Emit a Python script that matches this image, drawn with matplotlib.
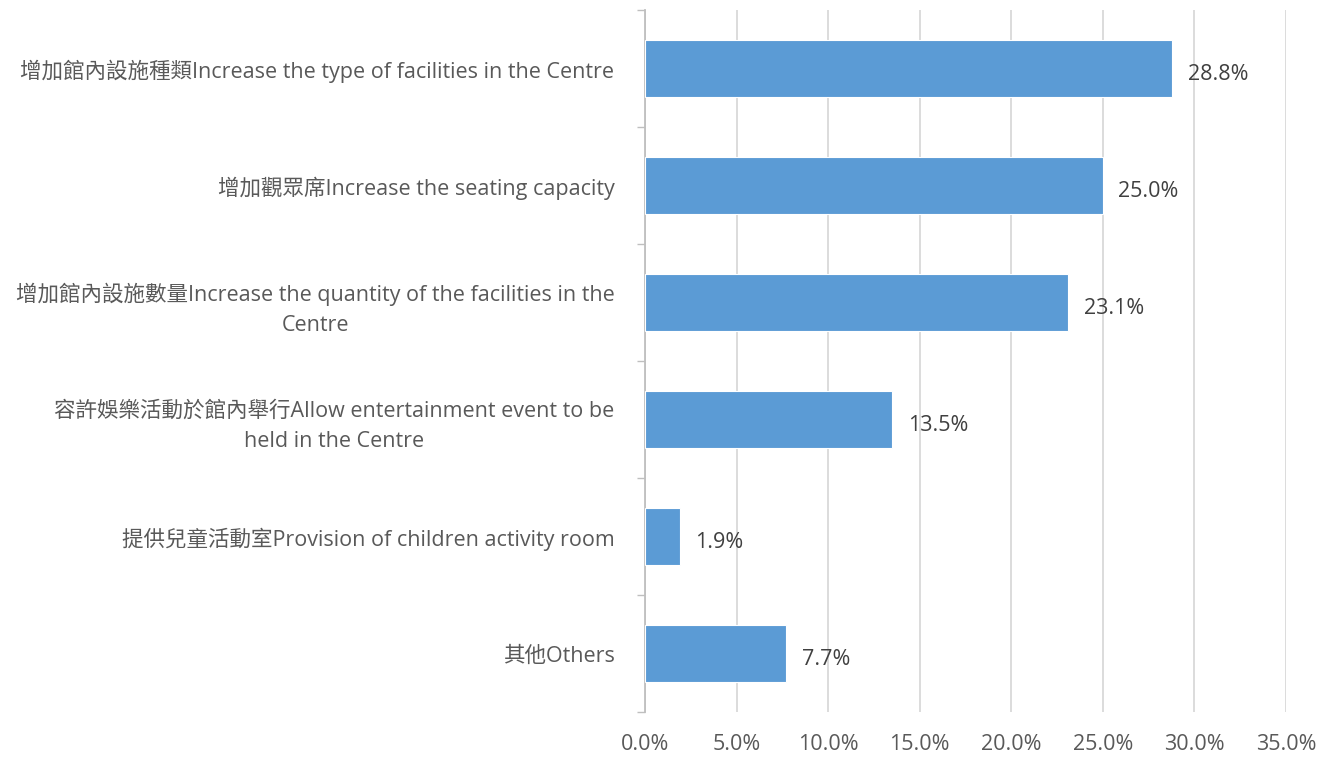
import matplotlib
matplotlib.use("Agg")
import matplotlib.pyplot as plt
import numpy as np

plt.rcParams['font.family'] = ['Open Sans', 'Noto Sans CJK TC', 'DejaVu Sans']

# data
categories = [
    "增加館內設施種類Increase the type of facilities in the Centre",
    "增加觀眾席Increase the seating capacity",
    "增加館內設施數量Increase the quantity of the facilities in the\nCentre",
    "容許娛樂活動於館內舉行Allow entertainment event to be\nheld in the Centre",
    "提供兒童活動室Provision of children activity room",
    "其他Others",
]
values = [28.8, 25.0, 23.1, 13.5, 1.9, 7.7]
xticks = [0, 5, 10, 15, 20, 25, 30, 35]

BAR_COLOR = "#5B9BD5"
GRID_COLOR = "#D9D9D9"
TEXT_COLOR = "#595959"
FS = 15.5

fig = plt.figure(figsize=(13.23, 7.57), dpi=100)
ax = fig.add_axes([645 / 1323, 1 - 712 / 757, (1286 - 645) / 1323, (712 - 10) / 757])

y = np.arange(len(categories))
ax.barh(y, values, height=0.49, color=BAR_COLOR, edgecolor="white", linewidth=0.8, zorder=3)

for yi, v in zip(y, values):
    ax.text(v + 0.85, yi + 0.05, f"{v:.1f}%", va="center", ha="left",
            fontsize=FS, color="#404040")

ax.set_xlim(0, 35)
ax.set_ylim(len(categories) - 0.5, -0.5)
ax.set_xticks(xticks)
ax.set_xticklabels([f"{t:.1f}%" for t in xticks], fontsize=FS, color=TEXT_COLOR)
ax.tick_params(axis="x", length=0, pad=16)

ax.set_yticks(y)
ax.set_yticklabels(categories, fontsize=FS, color=TEXT_COLOR, multialignment="center",
                   linespacing=1.55)
ax.tick_params(axis="y", which="major", length=0, pad=22)
ax.set_yticks(np.arange(len(categories) + 1) - 0.5, minor=True)
ax.tick_params(axis="y", which="minor", length=6, color="#BFBFBF", width=1)

ax.grid(axis="x", color=GRID_COLOR, linewidth=1.3, zorder=0)
ax.set_axisbelow(True)
for side in ["top", "right", "bottom"]:
    ax.spines[side].set_visible(False)
ax.spines["left"].set_color("#BFBFBF")
ax.spines["left"].set_linewidth(1.3)

fig.savefig("out.png", dpi=100)
